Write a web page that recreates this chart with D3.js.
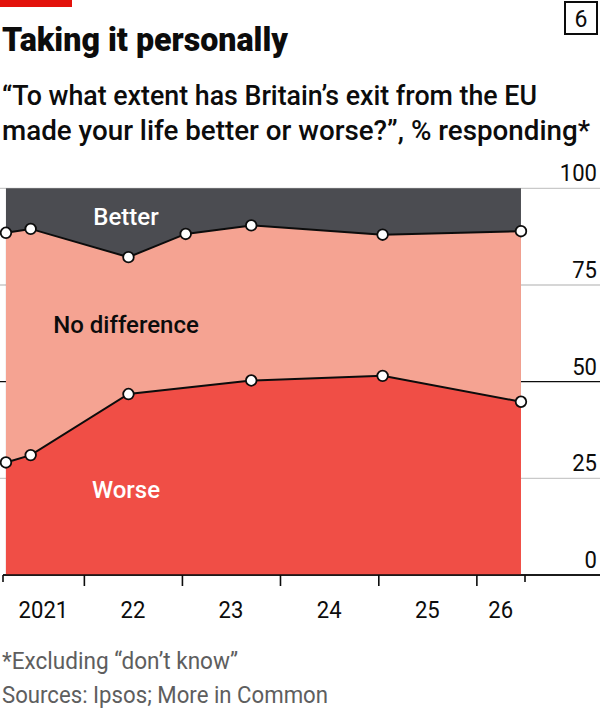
<!DOCTYPE html>
<html>
<head>
<meta charset="utf-8">
<script src="https://cdn.jsdelivr.net/npm/d3@7"></script>
<style>
  body { margin: 0; background: #fff; }
  svg { display: block; font-family: Roboto, "Noto Sans", sans-serif; }
</style>
</head>
<body>
<div id="chart"></div>
<script>
// data
const betterDates = ["2021-03-17", "2021-06-17", "2022-06-16", "2023-01-15", "2023-09-16", "2025-01-17", "2026-06-16"];
const betterValues = [11.5, 10.5, 17.8, 11.8, 9.6, 12.0, 11.1];
const worseDates = ["2021-03-17", "2021-06-17", "2022-06-16", "2023-09-16", "2025-01-17", "2026-06-16"];
const worseValues = [29.1, 31.0, 46.8, 50.3, 51.5, 44.8];
const yTicks = [0, 25, 50, 75, 100];
const yearTicks = ["2022", "2023", "2024", "2025", "2026"];
const yearLabels = ["2021", "22", "23", "24", "25", "26"];

const width = 600, height = 716;
const parse = d3.timeParse("%Y-%m-%d");

const svg = d3.select("#chart").append("svg")
  .attr("width", width)
  .attr("height", height);

const x = d3.scaleTime()
  .domain([parse("2021-03-06"), parse("2026-07-01")])
  .range([3, 525]);
const y = d3.scaleLinear().domain([0, 100]).range([575, 188.3]);

const better = betterDates.map((d, i) => ({ date: parse(d), value: betterValues[i] }));
const worse = worseDates.map((d, i) => ({ date: parse(d), value: worseValues[i] }));

// header
svg.append("rect").attr("x", 0).attr("y", 0).attr("width", 72).attr("height", 7).attr("fill", "#e3120b");
svg.append("text").attr("x", 2).attr("y", 51)
  .attr("font-size", 34).attr("font-weight", 900).attr("fill", "#0c0c0c")
  .attr("textLength", 286).attr("lengthAdjust", "spacingAndGlyphs")
  .text("Taking it personally");
svg.append("rect").attr("x", 565).attr("y", 2).attr("width", 32).attr("height", 32)
  .attr("fill", "none").attr("stroke", "#0c0c0c").attr("stroke-width", 2);
svg.append("text").attr("x", 581).attr("y", 27).attr("text-anchor", "middle")
  .attr("font-size", 23).attr("fill", "#0c0c0c").text("6");

const subtitle = ["\u201cTo what extent has Britain\u2019s exit from the EU", "made your life better or worse?\u201d, % responding*"];
const subWidths = [535, 588];
subtitle.forEach((s, i) => {
  svg.append("text").attr("x", 2).attr("y", 105 + i * 35)
    .attr("font-size", 28).attr("font-weight", 500).attr("fill", "#0c0c0c")
    .attr("textLength", subWidths[i]).attr("lengthAdjust", "spacingAndGlyphs")
    .text(s);
});

// gridlines
yTicks.forEach(t => {
  svg.append("line")
    .attr("x1", t === 0 ? 3 : 0).attr("x2", width)
    .attr("y1", y(t)).attr("y2", y(t))
    .attr("stroke", t === 0 || t === 50 ? "#0c0c0c" : "#c9c9c9")
    .attr("stroke-width", t === 0 ? 1.6 : 1.3);
  svg.append("text").attr("x", 597).attr("y", y(t) - 7)
    .attr("text-anchor", "end").attr("font-size", 24).attr("fill", "#0c0c0c")
    .attr("transform", `translate(${597 * 0.08},0) scale(0.92,1)`)
    .text(t);
});

// stacked areas
const dark = d3.area().x(d => x(d.date)).y0(y(0)).y1(y(100));
const upper = d3.area().x(d => x(d.date)).y0(y(0)).y1(d => y(100 - d.value));
const lower = d3.area().x(d => x(d.date)).y0(y(0)).y1(d => y(d.value));

svg.append("path").datum(better).attr("d", dark).attr("fill", "#4b4c51");
svg.append("path").datum(better).attr("d", upper).attr("fill", "#f5a392");
svg.append("path").datum(worse).attr("d", lower).attr("fill", "#f04e46");

// baseline over the areas
svg.append("line").attr("x1", 3).attr("x2", width).attr("y1", y(0)).attr("y2", y(0))
  .attr("stroke", "#0c0c0c").attr("stroke-width", 1.6);

const lineUpper = d3.line().x(d => x(d.date)).y(d => y(100 - d.value));
const lineLower = d3.line().x(d => x(d.date)).y(d => y(d.value));

svg.append("path").datum(better).attr("d", lineUpper)
  .attr("fill", "none").attr("stroke", "#0c0c0c").attr("stroke-width", 2);
svg.append("path").datum(worse).attr("d", lineLower)
  .attr("fill", "none").attr("stroke", "#0c0c0c").attr("stroke-width", 2);

svg.selectAll(".dotUpper").data(better).enter().append("circle")
  .attr("class", "dotUpper")
  .attr("cx", d => x(d.date)).attr("cy", d => y(100 - d.value)).attr("r", 5.3)
  .attr("fill", "#fff").attr("stroke", "#0c0c0c").attr("stroke-width", 1.8);
svg.selectAll(".dotLower").data(worse).enter().append("circle")
  .attr("class", "dotLower")
  .attr("cx", d => x(d.date)).attr("cy", d => y(d.value)).attr("r", 5.3)
  .attr("fill", "#fff").attr("stroke", "#0c0c0c").attr("stroke-width", 1.8);

// area labels
svg.append("text").attr("x", 126).attr("y", 225).attr("text-anchor", "middle")
  .attr("font-size", 24).attr("font-weight", 500).attr("fill", "#fff").text("Better");
svg.append("text").attr("x", 126).attr("y", 333).attr("text-anchor", "middle")
  .attr("font-size", 24).attr("font-weight", 500).attr("fill", "#0c0c0c").text("No difference");
svg.append("text").attr("x", 126).attr("y", 498).attr("text-anchor", "middle")
  .attr("font-size", 24).attr("font-weight", 500).attr("fill", "#fff").text("Worse");

// x axis ticks
const [d0, d1] = x.domain();
const years = yearTicks.map(d => d3.timeParse("%Y")(d));
const xAxis = d3.axisBottom(x).tickValues(years).tickSize(11).tickFormat("");
const gx = svg.append("g").attr("transform", `translate(0,${y(0)})`).call(xAxis);
gx.select(".domain").remove();
gx.selectAll("line").attr("stroke", "#0c0c0c").attr("stroke-width", 1.6);
[d0, d1].forEach(d => {
  svg.append("line").attr("x1", x(d)).attr("x2", x(d)).attr("y1", y(0)).attr("y2", y(0) + 7)
    .attr("stroke", "#0c0c0c").attr("stroke-width", 1.6);
});

// year labels centred in each year span
yearLabels.forEach((lab, i) => {
  const start = d3.max([new Date(2021 + i, 0, 1), d0]);
  const end = d3.min([new Date(2022 + i, 0, 1), d1]);
  const cx = (x(start) + x(end)) / 2;
  svg.append("text")
    .attr("x", cx).attr("y", 618)
    .attr("text-anchor", "middle").attr("font-size", 24).attr("fill", "#0c0c0c")
    .attr("transform", `translate(${cx * 0.08},0) scale(0.92,1)`)
    .text(lab);
});

// footnotes
svg.append("text").attr("x", 2).attr("y", 669)
  .attr("font-size", 23).attr("fill", "#5e5e5e")
  .attr("textLength", 236).attr("lengthAdjust", "spacingAndGlyphs")
  .text("*Excluding \u201cdon\u2019t know\u201d");
svg.append("text").attr("x", 2).attr("y", 703)
  .attr("font-size", 23).attr("fill", "#5e5e5e")
  .attr("textLength", 326).attr("lengthAdjust", "spacingAndGlyphs")
  .text("Sources: Ipsos; More in Common");
</script>
</body>
</html>
